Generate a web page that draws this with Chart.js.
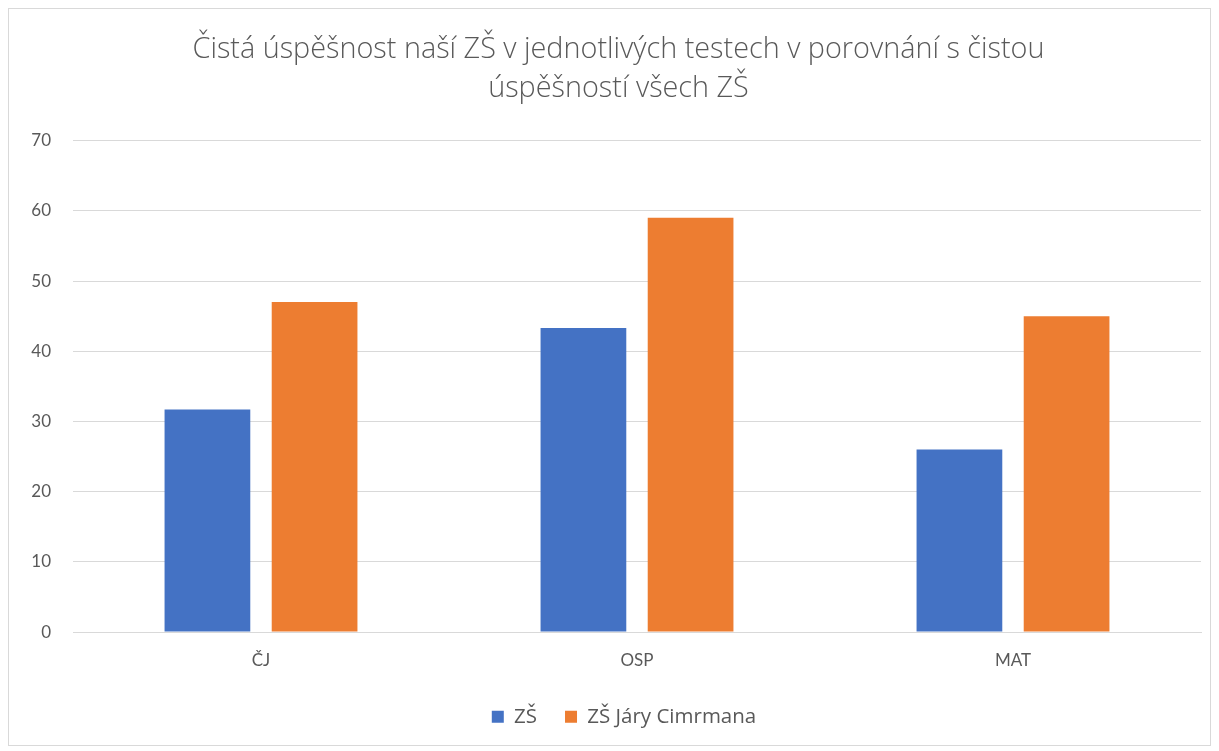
<!DOCTYPE html>
<html>
<head>
<meta charset="utf-8">
<script src="https://cdn.jsdelivr.net/npm/chart.js@4"></script>
<style>
  html, body { margin: 0; padding: 0; background: #fff; }
  #wrap { position: relative; width: 1219px; height: 751px; }
  #frame { position: absolute; left: 8px; top: 8px; width: 1201px; height: 736px; border: 1px solid #d9d9d9; pointer-events: none; }
</style>
</head>
<body>
<div id="wrap">
  <canvas id="chart" width="1219" height="751"></canvas>
  <div id="frame"></div>
</div>
<script>
// data
const categories = ['ČJ', 'OSP', 'MAT']
const zsValues = [31.7, 43.3, 26.0]
const cimrmanValues = [47.0, 59.0, 45.0]
const seriesNames = ['ZŠ', 'ZŠ Járy Cimrmana']
const titleLines = ['Čistá úspěšnost naší ZŠ v jednotlivých testech v porovnání s čistou', 'úspěšností všech ZŠ']

const textColor = '#595959'
const gridColor = '#d9d9d9'
const font = 'Lato, "Open Sans", sans-serif'
const wideFont = '"Open Sans", sans-serif'

// title and legend sit a bit right of centre in the original,
// legend box also a bit shorter than chart.js makes it
const boxTweak = {
  id: 'boxTweak',
  afterInit (chart) {
    const legend = chart.legend
    const fit = legend.fit
    legend.fit = function () {
      fit.call(this)
      this.height -= 6
    }
  },
  afterLayout (chart) {
    const legend = chart.legend
    legend.left += 19.5
    legend.right += 19.5
    legend.top -= 10
    legend.bottom -= 10
    const title = chart.titleBlock
    title.left += 14
    title.right += 14
  }
}

const config = {
  type: 'bar',
  data: {
    labels: categories,
    datasets: [
      { label: seriesNames[0], data: zsValues, backgroundColor: '#4472c4' },
      { label: seriesNames[1], data: cimrmanValues, backgroundColor: '#ed7d31' }
    ]
  },
  options: {
    responsive: false,
    animation: false,
    devicePixelRatio: 1,
    categoryPercentage: 0.57,
    barPercentage: 0.8,
    layout: { padding: { left: 8, right: 18, top: 10, bottom: 10 } },
    plugins: {
      title: {
        display: true,
        text: titleLines,
        color: textColor,
        font: { family: wideFont, size: 28.8, weight: '300', lineHeight: 1.33 },
        padding: { top: 21, bottom: 33 }
      },
      legend: {
        position: 'bottom',
        labels: {
          color: textColor,
          font: { family: wideFont, size: 20.5 },
          boxWidth: 12,
          boxHeight: 12,
          padding: 28
        }
      },
      tooltip: { enabled: false }
    },
    scales: {
      x: {
        grid: { display: false, drawTicks: false },
        border: { color: gridColor },
        ticks: { color: textColor, font: { family: font, size: 17 }, padding: 18 }
      },
      y: {
        min: 0,
        max: 70,
        ticks: { stepSize: 10, color: textColor, font: { family: font, size: 17 }, padding: 22 },
        grid: { color: gridColor, drawTicks: false },
        border: { display: false },
        afterFit: (scale) => { scale.width = 65 }
      }
    }
  },
  plugins: [boxTweak]
}

const chart = new Chart(document.getElementById('chart').getContext('2d'), config)
</script>
</body>
</html>
